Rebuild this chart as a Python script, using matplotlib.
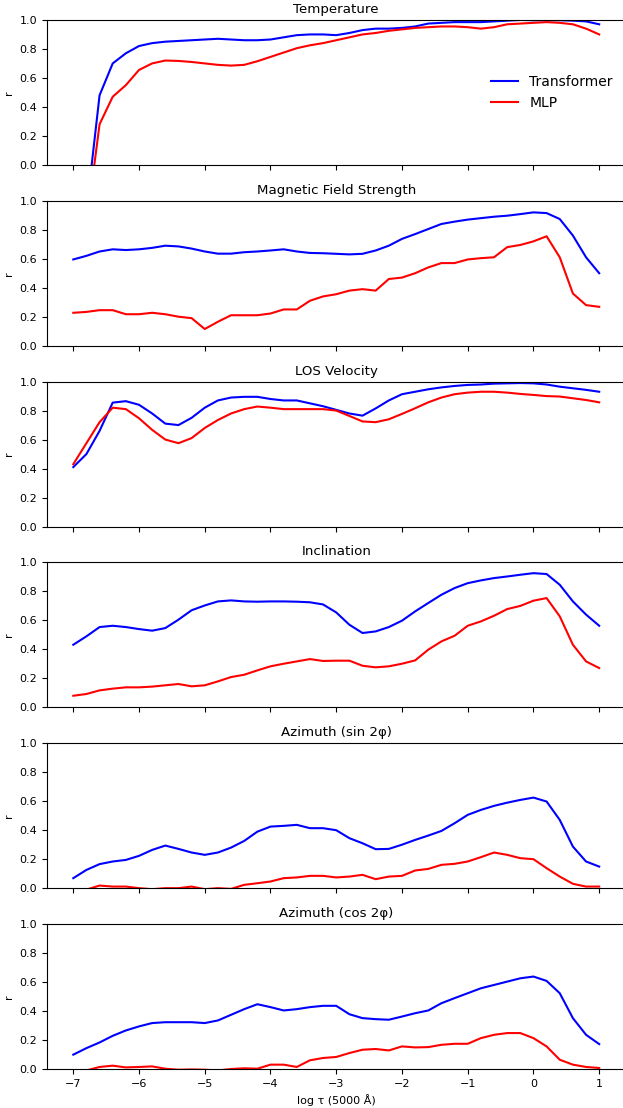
import numpy as np
import matplotlib
matplotlib.use("Agg")
import matplotlib.pyplot as plt

# optical depth grid, log tau (5000 A)
LOG_TAU = np.linspace(-7.0, 1.0, 41)

TITLES = ["Temperature", "Magnetic Field Strength", "LOS Velocity",
          "Inclination", "Azimuth (sin 2φ)", "Azimuth (cos 2φ)"]

# correlation r per depth, Transformer (blue) and MLP (red)
TEMP_TR = [-0.9, -0.32, 0.48, 0.70, 0.77, 0.82, 0.84, 0.85, 0.855, 0.86, 0.865,
           0.87, 0.865, 0.86, 0.86, 0.865, 0.88, 0.895, 0.90, 0.90, 0.895,
           0.91, 0.93, 0.94, 0.94, 0.945, 0.955, 0.975, 0.98, 0.985, 0.985,
           0.985, 0.99, 0.995, 1.0, 0.998, 0.998, 0.998, 0.995, 0.99, 0.97]
TEMP_MLP = [-1.0, -0.42, 0.28, 0.47, 0.55, 0.655, 0.70, 0.72, 0.717, 0.71, 0.70,
            0.69, 0.685, 0.69, 0.715, 0.745, 0.775, 0.805, 0.825, 0.84, 0.86,
            0.88, 0.90, 0.91, 0.925, 0.935, 0.945, 0.95, 0.955, 0.955, 0.95,
            0.94, 0.95, 0.97, 0.975, 0.98, 0.985, 0.98, 0.97, 0.94, 0.90]

BFIELD_TR = [0.595, 0.62, 0.65, 0.665, 0.66, 0.665, 0.675, 0.69, 0.685, 0.67, 0.65,
             0.635, 0.635, 0.645, 0.65, 0.657, 0.665, 0.65, 0.64, 0.638, 0.634,
             0.63, 0.634, 0.657, 0.69, 0.737, 0.77, 0.805, 0.84, 0.856, 0.87,
             0.88, 0.89, 0.897, 0.908, 0.92, 0.915, 0.874, 0.76, 0.61, 0.50]
BFIELD_MLP = [0.227, 0.233, 0.245, 0.245, 0.217, 0.217, 0.227, 0.217, 0.20, 0.19, 0.115,
              0.165, 0.21, 0.21, 0.21, 0.222, 0.25, 0.25, 0.31, 0.34, 0.355,
              0.38, 0.39, 0.38, 0.46, 0.47, 0.50, 0.54, 0.57, 0.57, 0.595,
              0.604, 0.61, 0.68, 0.695, 0.72, 0.755, 0.61, 0.36, 0.28, 0.268]

VLOS_TR = [0.41, 0.50, 0.66, 0.855, 0.865, 0.84, 0.78, 0.71, 0.70, 0.75, 0.82,
           0.87, 0.89, 0.895, 0.895, 0.88, 0.87, 0.87, 0.85, 0.83, 0.805,
           0.78, 0.765, 0.815, 0.87, 0.913, 0.93, 0.947, 0.96, 0.97, 0.977,
           0.98, 0.986, 0.988, 0.99, 0.988, 0.98, 0.965, 0.954, 0.943, 0.93]
VLOS_MLP = [0.43, 0.575, 0.72, 0.82, 0.81, 0.747, 0.667, 0.60, 0.575, 0.61, 0.68,
            0.735, 0.78, 0.81, 0.828, 0.82, 0.81, 0.81, 0.81, 0.81, 0.80,
            0.763, 0.725, 0.72, 0.74, 0.777, 0.816, 0.857, 0.89, 0.913, 0.924,
            0.93, 0.93, 0.924, 0.915, 0.908, 0.90, 0.897, 0.885, 0.873, 0.857]

INCL_TR = [0.432, 0.49, 0.554, 0.563, 0.554, 0.54, 0.529, 0.547, 0.605, 0.67, 0.703,
           0.731, 0.738, 0.731, 0.729, 0.731, 0.731, 0.729, 0.725, 0.71, 0.655,
           0.57, 0.513, 0.524, 0.554, 0.598, 0.662, 0.72, 0.777, 0.823, 0.857,
           0.876, 0.892, 0.903, 0.915, 0.926, 0.92, 0.846, 0.731, 0.64, 0.563]
INCL_MLP = [0.08, 0.092, 0.117, 0.129, 0.138, 0.138, 0.143, 0.152, 0.161, 0.145, 0.152,
            0.179, 0.209, 0.225, 0.255, 0.283, 0.301, 0.317, 0.333, 0.32, 0.322,
            0.322, 0.287, 0.276, 0.283, 0.301, 0.324, 0.398, 0.455, 0.494, 0.563,
            0.593, 0.632, 0.678, 0.70, 0.736, 0.754, 0.628, 0.432, 0.317, 0.271]

SIN_TR = [0.069, 0.126, 0.166, 0.184, 0.195, 0.223, 0.264, 0.294, 0.271, 0.246, 0.23,
          0.246, 0.28, 0.326, 0.39, 0.425, 0.43, 0.437, 0.414, 0.414, 0.40,
          0.345, 0.31, 0.269, 0.271, 0.30, 0.333, 0.363, 0.395, 0.448, 0.506,
          0.54, 0.568, 0.59, 0.609, 0.625, 0.598, 0.471, 0.287, 0.184, 0.149]
SIN_MLP = [-0.01, -0.01, 0.018, 0.011, 0.011, 0.0, -0.007, 0.0, 0.0, 0.011, -0.007,
           0.0, -0.005, 0.023, 0.034, 0.046, 0.069, 0.074, 0.085, 0.085, 0.074,
           0.08, 0.092, 0.062, 0.08, 0.085, 0.122, 0.133, 0.161, 0.168, 0.184,
           0.214, 0.246, 0.23, 0.207, 0.20, 0.138, 0.08, 0.03, 0.011, 0.011]

COS_TR = [0.099, 0.144, 0.183, 0.229, 0.266, 0.294, 0.317, 0.323, 0.323, 0.323, 0.317,
          0.335, 0.374, 0.413, 0.447, 0.427, 0.404, 0.413, 0.427, 0.436, 0.436,
          0.378, 0.351, 0.344, 0.34, 0.362, 0.385, 0.404, 0.454, 0.489, 0.523,
          0.557, 0.58, 0.603, 0.626, 0.638, 0.608, 0.523, 0.351, 0.236, 0.172]
COS_MLP = [-0.02, -0.01, 0.014, 0.023, 0.011, 0.014, 0.018, 0.002, -0.005, -0.003, -0.005,
           -0.01, 0.0, 0.005, 0.002, 0.03, 0.03, 0.014, 0.06, 0.076, 0.083,
           0.11, 0.133, 0.138, 0.128, 0.156, 0.149, 0.151, 0.167, 0.174, 0.174,
           0.213, 0.236, 0.248, 0.248, 0.213, 0.156, 0.064, 0.03, 0.014, 0.007]

TRANSFORMER = [TEMP_TR, BFIELD_TR, VLOS_TR, INCL_TR, SIN_TR, COS_TR]
MLP = [TEMP_MLP, BFIELD_MLP, VLOS_MLP, INCL_MLP, SIN_MLP, COS_MLP]


fig, axes = plt.subplots(6, 1, figsize=(6.23, 11.08), dpi=100, sharex=True)
fig.subplots_adjust(left=0.0754, right=1.004, top=0.982, bottom=0.0352,
                    hspace=0.248)

for ax, title, tr, mlp in zip(axes, TITLES, TRANSFORMER, MLP):
    ax.plot(LOG_TAU, tr, color="blue", lw=1.5, label="Transformer")
    ax.plot(LOG_TAU, mlp, color="red", lw=1.5, label="MLP")
    ax.set_ylim(0, 1)
    ax.set_title(title, fontsize=9.6, pad=5)
    ax.set_ylabel("r", fontsize=8)
    ax.tick_params(labelsize=8)
    ax.spines["right"].set_visible(False)

axes[0].legend(loc="center right", frameon=False, fontsize=10,
               bbox_to_anchor=(1.0, 0.5))
axes[-1].set_xticks(np.arange(-7, 2, 1))
axes[-1].set_xlabel("log τ (5000 Å)", fontsize=8)

fig.savefig("out.png", dpi=100)
